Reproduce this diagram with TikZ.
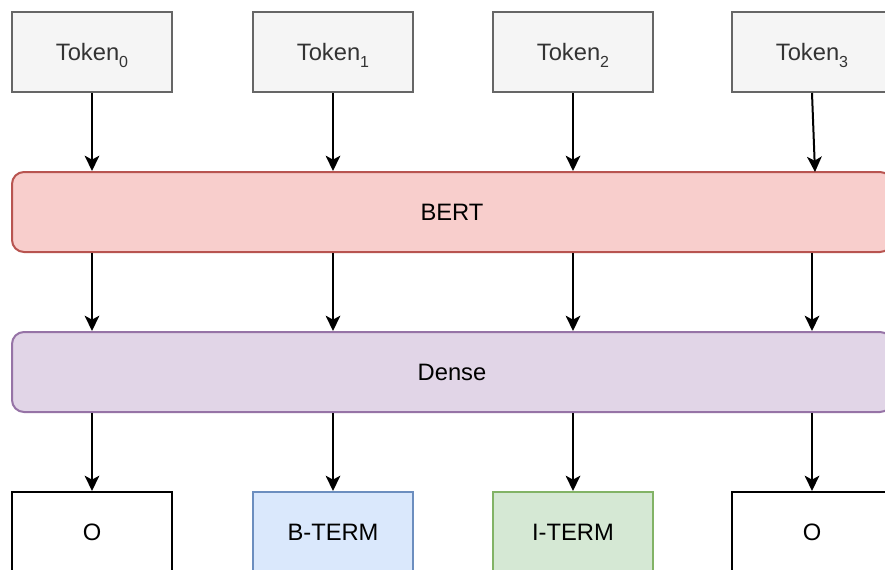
\documentclass[tikz,border=0pt]{standalone}
\usepackage{fontspec}
\setmainfont{Liberation Sans}
\usetikzlibrary{arrows.meta}

\definecolor{tokfill}{HTML}{F5F5F5}
\definecolor{tokline}{HTML}{666666}
\definecolor{toktext}{HTML}{333333}
\definecolor{bertfill}{HTML}{F8CECC}
\definecolor{bertline}{HTML}{B85450}
\definecolor{densefill}{HTML}{E1D5E7}
\definecolor{denseline}{HTML}{9673A6}
\definecolor{bfill}{HTML}{DAE8FC}
\definecolor{bline}{HTML}{6C8EBF}
\definecolor{ifill}{HTML}{D5E8D4}
\definecolor{iline}{HTML}{82B366}

% lowered index that does not change the height of the label
\newcommand{\subidx}[1]{\raisebox{-0.3em}[0pt][0pt]{\fontsize{12}{12}\selectfont #1}}

\tikzset{
  box/.style={draw, line width=1.5pt, minimum width=120pt, minimum height=60pt,
    inner sep=0pt, font=\fontsize{17.8}{20}\selectfont},
  tokbox/.style={box, fill=tokfill, draw=tokline, text=toktext},
  layer/.style={box, rounded corners=9pt, minimum width=660pt},
  outbox/.style={box, fill=white, draw=black},
  arr/.style={line width=1.5pt, -{Stealth[length=11.5pt,width=11pt,inset=3pt]}}
}

\begin{document}
\begin{tikzpicture}[x=0.75pt,y=-0.75pt]
  \useasboundingbox (0,0) rectangle (885,569);
  \clip (0,0) rectangle (885,569);

  % input tokens
  \node[tokbox] (t0) at (92,52)  {Token\subidx{0}};
  \node[tokbox] (t1) at (333,52) {Token\subidx{1}};
  \node[tokbox] (t2) at (573,52) {Token\subidx{2}};
  \node[tokbox] (t3) at (812,52) {Token\subidx{3}};

  % encoder and classification layers
  \node[layer, fill=bertfill, draw=bertline] (bert) at (452,212) {BERT};
  \node[layer, fill=densefill, draw=denseline] (dense) at (452,372) {Dense};

  % output tags
  \node[outbox] (o0) at (92,532) {O};
  \node[box, fill=bfill, draw=bline] (o1) at (333,532) {B-TERM};
  \node[box, fill=ifill, draw=iline] (o2) at (573,532) {I-TERM};
  \node[outbox] (o3) at (812,532) {O};

  \coordinate (b3) at (815,172);

  % tokens -> BERT
  \draw[arr] (t0.south) -- (t0 |- bert.north);
  \draw[arr] (t1.south) -- (t1 |- bert.north);
  \draw[arr] (t2.south) -- (t2 |- bert.north);
  \draw[arr] (t3.south) -- (b3);

  % BERT -> Dense
  \foreach \o in {o0,o1,o2,o3}
    \draw[arr] (bert.south -| \o) -- (dense.north -| \o);

  % Dense -> tags
  \foreach \o in {o0,o1,o2,o3}
    \draw[arr] (dense.south -| \o) -- (\o.north);
\end{tikzpicture}
\end{document}
